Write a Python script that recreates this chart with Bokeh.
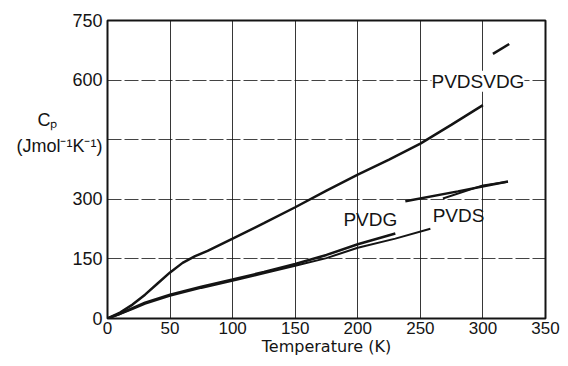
from bokeh.plotting import figure
from bokeh.models import Label, FixedTicker, Range1d
from bokeh.embed import file_html
from bokeh.resources import INLINE

# ---- data ----
x_ticks = [0, 50, 100, 150, 200, 250, 300, 350]
y_grid = [0, 150, 300, 450, 600, 750]
y_tick_labels = {0: "0", 150: "150", 300: "300", 600: "600", 750: "750"}

# PVDSVDG (upper curve)
t_vdsvdg = [0, 10, 20, 30, 40, 50, 60, 70, 80, 100, 125, 150, 175, 200, 225, 250, 275, 300]
cp_vdsvdg = [0, 15, 35, 60, 88, 116, 140, 157, 170, 201, 240, 280, 322, 362, 400, 440, 488, 537]
t_vdsvdg_hi = [308, 321]
cp_vdsvdg_hi = [666, 691]

# PVDG
t_vdg = [0, 10, 20, 30, 50, 75, 100, 125, 150, 175, 200, 230]
cp_vdg = [0, 12, 26, 40, 60, 80, 98, 117, 137, 160, 187, 214]
t_vdg_hi = [238, 280, 320]
cp_vdg_hi = [295, 320, 345]

# PVDS
t_vds = [0, 10, 20, 30, 50, 75, 100, 125, 150, 175, 200, 230, 258]
cp_vds = [0, 11, 24, 37, 57, 77, 95, 114, 133, 152, 178, 201, 226]
t_vds_hi = [268, 300, 320]
cp_vds_hi = [302, 335, 344]

x_title = "Temperature (K)"
y_symbol = "C\u209a"
y_units = "(Jmol\u207b\u00b9K\u207b\u00b9)"
units_at = 433
symbol_at = 500

INK = "#141414"

p = figure(width=560, height=358,
           x_range=Range1d(0, 350), y_range=Range1d(0, 750),
           output_backend="svg", toolbar_location=None,
           min_border_left=107, min_border_right=15,
           min_border_top=20, min_border_bottom=40)

p.background_fill_color = "white"
p.border_fill_color = "white"
p.outline_line_color = INK
p.outline_line_width = 2

for ax in (p.xaxis, p.yaxis):
    ax.axis_line_color = None
    ax.major_tick_out = 0
    ax.major_tick_in = 0
    ax.minor_tick_out = 0
    ax.minor_tick_in = 0
    ax.major_label_text_font = "Liberation Sans"
    ax.major_label_text_font_size = "18px"
    ax.major_label_text_color = INK

p.xaxis.ticker = FixedTicker(ticks=x_ticks)
p.xaxis.major_label_text_font_size = "17px"
p.xaxis.major_label_standoff = 3
p.xaxis.axis_label = x_title
p.xaxis.axis_label_text_font = "DejaVu Sans"
p.xaxis.axis_label_text_font_size = "16px"
p.xaxis.axis_label_text_font_style = "normal"
p.xaxis.axis_label_text_color = INK
p.xaxis.axis_label_standoff = 0

# y axis: numeric labels plus the quantity symbol and units as labels of the axis
y_ticks = sorted(list(y_tick_labels.keys()) + [units_at, symbol_at])
overrides = dict(y_tick_labels)
overrides[units_at] = y_units
overrides[symbol_at] = y_symbol + "\u00a0" * 9
p.yaxis.ticker = FixedTicker(ticks=y_ticks)
p.yaxis.major_label_overrides = overrides
p.yaxis.major_label_standoff = 5

p.xgrid.ticker = FixedTicker(ticks=x_ticks)
p.ygrid.ticker = FixedTicker(ticks=y_grid)
p.xgrid.grid_line_color = INK
p.xgrid.grid_line_width = 1
p.xgrid.grid_line_alpha = 0.85
p.ygrid.grid_line_color = INK
p.ygrid.grid_line_width = 1
p.ygrid.grid_line_alpha = 0.8
p.ygrid.grid_line_dash = "14 3"

lw = 2.5
p.line(t_vdsvdg, cp_vdsvdg, line_width=lw, color=INK)
p.line(t_vdsvdg_hi, cp_vdsvdg_hi, line_width=lw, color=INK)
p.line(t_vdg, cp_vdg, line_width=lw, color=INK)
p.line(t_vdg_hi, cp_vdg_hi, line_width=lw, color=INK)
p.line(t_vds, cp_vds, line_width=2, color=INK)
p.line(t_vds_hi, cp_vds_hi, line_width=2, color=INK)

def lab(x, y, text, size, bg=None):
    l = Label(x=x, y=y, text=text, text_font="Liberation Sans", text_font_size=size,
              text_align="center", text_baseline="middle", text_color=INK)
    if bg:
        l.background_fill_color = bg
    p.add_layout(l)

lab(296, 597, "PVDSVDG", "19px", bg="white")
lab(210, 248, "PVDG", "19px")
lab(280.5, 258, "PVDS", "19px")

open("out.html", "w").write(file_html(p, INLINE))
